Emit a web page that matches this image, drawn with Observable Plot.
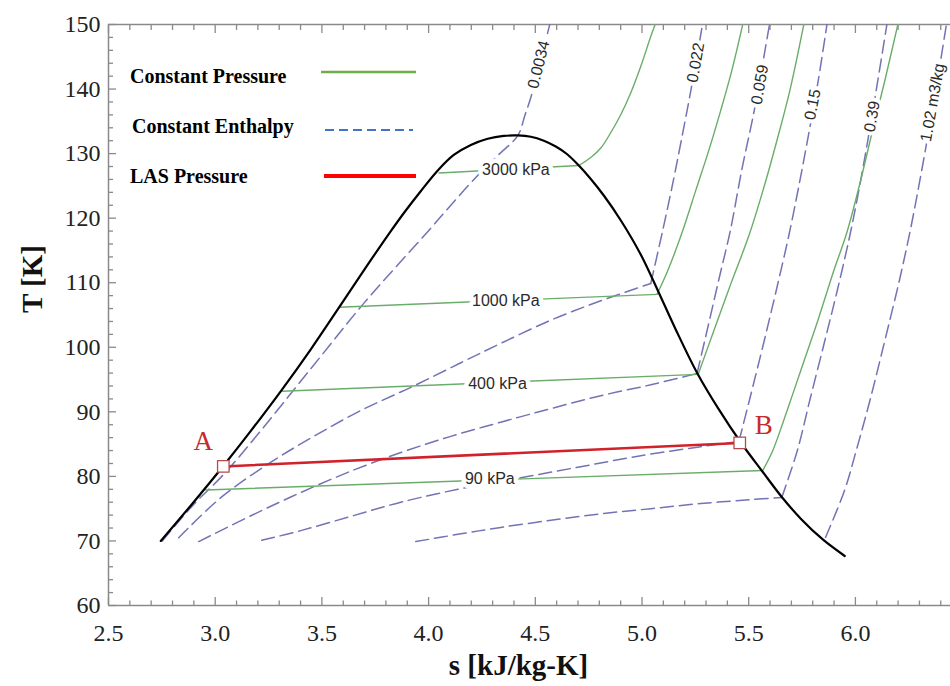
<!DOCTYPE html>
<html><head><meta charset="utf-8">
<script src="https://cdn.jsdelivr.net/npm/d3@7"></script>
<script src="https://cdn.jsdelivr.net/npm/@observablehq/plot@0.6"></script>
<style>
html,body{margin:0;padding:0;background:#fff;}
#wrap{position:relative;width:950px;height:686px;}
</style></head><body>
<div id="wrap"></div>
<script>
// ---------- data (s [kJ/kg-K], T [K]) ----------
const xDomain = [2.5, 6.4456];
const yDomain = [60, 150];
const xMajor = [2.5, 3.0, 3.5, 4.0, 4.5, 5.0, 5.5, 6.0];
const yMajor = [60, 70, 80, 90, 100, 110, 120, 130, 140, 150];

// saturation dome
const dome = [[2.745,70.0],[2.886,75.5],[3.036,81.54],[3.167,87.05],[3.307,93.18],[3.448,99.69],[3.579,106.1],[3.706,112.38],[3.823,118.0],[3.893,121.19],[3.964,124.21],[4.043,127.39],[4.118,129.79],[4.198,131.34],[4.277,132.3],[4.352,132.74],[4.418,132.81],[4.479,132.61],[4.540,132.0],[4.596,131.1],[4.648,129.94],[4.704,128.16],[4.760,126.07],[4.821,123.51],[4.901,119.64],[4.994,114.37],[5.074,108.8],[5.158,102.76],[5.261,95.86],[5.360,90.37],[5.463,85.25],[5.566,80.68],[5.655,76.81],[5.744,73.45],[5.847,70.23],[5.950,67.67]];

// constant pressure lines (wet part + superheated part)
const p3000Wet = [[4.049,127.0],[4.704,128.16]];
const p3000Dry = [[4.704,128.16],[4.760,129.4],[4.807,130.87],[4.854,133.27],[4.901,136.06],[4.948,139.47],[4.994,143.49],[5.041,148.14],[5.065,150.31]];
const p1000Wet = [[3.581,106.2],[5.070,108.2]];
const p1000Dry = [[5.070,108.2],[5.121,111.9],[5.191,118.1],[5.252,124.3],[5.313,130.5],[5.369,136.7],[5.421,142.9],[5.474,150.3]];
const p400Wet = [[3.315,93.2],[5.263,95.8]];
const p400Dry = [[5.263,95.8],[5.337,102.6],[5.417,109.9],[5.501,117.3],[5.567,124.3],[5.632,132.0],[5.693,139.8],[5.760,150.3]];
const p90Wet = [[2.956,77.9],[5.566,80.92]];
const p90Dry = [[5.566,80.92],[5.613,84.02],[5.664,88.66],[5.744,96.41],[5.824,104.15],[5.899,111.9],[5.960,117.78],[6.021,125.37],[6.077,133.12],[6.138,141.33],[6.201,150.3]];

// constant specific-volume lines (dashed)
const v0034 = [[2.752,70.0],[2.895,75.5],[3.045,80.5],[3.214,87.1],[3.434,96.1],[3.696,106.8],[3.854,112.7],[4.001,118.1],[4.104,122.0],[4.221,126.3],[4.324,129.7],[4.418,132.8],[4.451,135.9],[4.479,138.7],[4.507,142.1],[4.570,150.3]];
const v022Wet = [[2.829,70.5],[3.026,76.7],[3.261,82.2],[3.462,86.2],[3.682,90.2],[3.917,93.8],[4.151,97.6],[4.338,100.6],[4.573,104.2],[4.807,107.2],[5.041,109.88]];
const v022Dry = [[5.041,109.88],[5.097,118.09],[5.147,125.84],[5.184,132.03],[5.229,139.78],[5.285,150.3]];
const v059Wet = [[2.923,69.9],[3.167,73.9],[3.401,77.5],[3.635,80.8],[3.870,83.7],[4.104,86.2],[4.338,88.4],[4.573,90.5],[4.807,92.5],[5.042,94.2],[5.258,95.94]];
const v059Dry = [[5.258,95.94],[5.305,102.6],[5.359,110.35],[5.414,118.09],[5.467,127.39],[5.526,136.68],[5.568,144.42],[5.599,150.3]];
const v15Wet = [[3.218,70.1],[3.401,71.6],[3.635,73.8],[3.870,76.0],[4.151,78.1],[4.432,79.8],[4.713,81.5],[4.994,83.2],[5.275,84.6],[5.454,85.41]];
const v15Dry = [[5.454,85.41],[5.503,91.76],[5.573,101.05],[5.629,108.8],[5.688,117.32],[5.740,125.84],[5.784,133.58],[5.826,141.33],[5.868,150.3]];
const v39Wet = [[3.940,69.9],[4.151,71.1],[4.338,72.1],[4.573,73.2],[4.807,74.2],[5.042,75.0],[5.276,75.8],[5.510,76.4],[5.655,76.74]];
const v39Dry = [[5.655,76.74],[5.728,84.02],[5.786,91.76],[5.857,101.05],[5.915,108.8],[5.974,117.32],[6.016,124.29],[6.058,132.03],[6.105,141.33],[6.149,150.3]];
const v102Dry = [[5.860,70.54],[5.949,77.82],[6.004,84.02],[6.068,91.76],[6.138,101.05],[6.206,110.35],[6.257,118.09],[6.302,125.84],[6.344,133.58],[6.384,141.33],[6.428,150.3]];

const lasLine = [[3.038,81.54],[5.458,85.18]];
const statePoints = [{name:"A", s:3.038, T:81.54}, {name:"B", s:5.458, T:85.18}];

const pressureLabels = [
  {text:"3000 kPa", s:4.409, T:127.54},
  {text:"1000 kPa", s:4.362, T:107.25},
  {text:"400 kPa",  s:4.323, T:94.35},
  {text:"90 kPa",   s:4.287, T:79.63}
];
const volumeLabels = [
  {text:"0.0034",     s:4.516, T:143.8,  angle:-76},
  {text:"0.022",      s:5.252, T:144.1,  angle:-80},
  {text:"0.059",      s:5.552, T:140.7,  angle:-80},
  {text:"0.15",       s:5.800, T:137.6,  angle:-79},
  {text:"0.39",       s:6.078, T:135.75, angle:-80},
  {text:"1.02 m3/kg", s:6.362, T:137.9,  angle:-80}
];
const legendLabels = ["Constant Pressure", "Constant Enthalpy", "LAS Pressure"];

// ---------- derived ----------
const xMinor = d3.range(25, 65).map(i => i / 10).filter(v => !xMajor.includes(v));
const yMinor = d3.range(60, 151, 2).filter(v => v % 10 !== 0);
const pressureLines = [p3000Wet, p3000Dry, p1000Wet, p1000Dry, p400Wet, p400Dry, p90Wet, p90Dry];
const volumeLines = [v0034, v022Wet, v022Dry, v059Wet, v059Dry, v15Wet, v15Dry, v39Wet, v39Dry, v102Dry];

const GREEN = "#6aad6a", DASH = "#7373b5", GRID = "#8a8a8a";
const px = {x: d => d[0], y: d => d[1]};

const marks = [];
// frame (left, top, bottom)
marks.push(Plot.ruleX([xDomain[0]], {stroke: GRID, strokeWidth: 1.5}));
marks.push(Plot.ruleY(yDomain, {stroke: GRID, strokeWidth: 1.5}));
// ticks (inward)
marks.push(Plot.axisX(xMajor, {anchor: "bottom", tickSize: 8, dy: -8, fill: "none", stroke: GRID, strokeWidth: 1.3, label: null}));
marks.push(Plot.axisX(xMinor, {anchor: "bottom", tickSize: 4.5, dy: -4.5, fill: "none", stroke: GRID, strokeWidth: 1.3, label: null}));
marks.push(Plot.axisX(xMajor, {anchor: "top", tickSize: 8, dy: 8, fill: "none", stroke: GRID, strokeWidth: 1.3, label: null}));
marks.push(Plot.axisX(xMinor, {anchor: "top", tickSize: 5, dy: 5, fill: "none", stroke: GRID, strokeWidth: 1.3, label: null}));
marks.push(Plot.axisY(yMajor, {anchor: "left", tickSize: 8, dx: 8, fill: "none", stroke: GRID, strokeWidth: 1.3, label: null}));
marks.push(Plot.axisY(yMinor, {anchor: "left", tickSize: 5, dx: 5, fill: "none", stroke: GRID, strokeWidth: 1.3, label: null}));
// tick labels
marks.push(Plot.axisX(xMajor, {anchor: "bottom", tickSize: 0, tickPadding: 18, tickFormat: d => d.toFixed(1), fontSize: 24, fill: "#222", label: null}));
marks.push(Plot.axisY(yMajor, {anchor: "left", tickSize: 0, tickPadding: 8, fontSize: 24, fill: "#222", label: null}));

// constant volume (dashed)
for (const L of volumeLines) marks.push(Plot.line(L, {...px, stroke: DASH, strokeWidth: 1.5, strokeDasharray: "13,6", curve: "catmull-rom", clip: true}));
// constant pressure (green)
for (const L of pressureLines) marks.push(Plot.line(L, {...px, stroke: GREEN, strokeWidth: 1.4, curve: "catmull-rom", clip: true}));
// saturation dome
marks.push(Plot.line(dome, {...px, stroke: "#000", strokeWidth: 2.2, curve: "catmull-rom"}));
// LAS pressure line
marks.push(Plot.line(lasLine, {...px, stroke: "#d0222a", strokeWidth: 2.6}));

// labels with white halo
marks.push(Plot.text(pressureLabels, {x: "s", y: "T", text: "text", fill: "#2a2a2a", stroke: "white", strokeWidth: 9, fontSize: 16, fontFamily: "Liberation Sans, Arial, sans-serif"}));
marks.push(Plot.text(volumeLabels, {x: "s", y: "T", text: "text", rotate: "angle", fill: "#2a2a2a", stroke: "white", strokeWidth: 8, fontSize: 16, fontFamily: "Liberation Sans, Arial, sans-serif"}));

// state points
marks.push(Plot.dot(statePoints, {x: "s", y: "T", symbol: "square", r: 6.5, fill: "white", stroke: "#b84a4a", strokeWidth: 1.3}));
marks.push(Plot.text(statePoints.filter(d => d.name === "A"), {x: "s", y: "T", text: "name", dx: -20, dy: -25, fontSize: 27, fill: "#c62a2a"}));
marks.push(Plot.text(statePoints.filter(d => d.name === "B"), {x: "s", y: "T", text: "name", dx: 24, dy: -18, fontSize: 27, fill: "#c62a2a"}));

// axis titles
marks.push(Plot.text(["s [kJ/kg-K]"], {text: d => d, frameAnchor: "bottom", dx: -11, dy: 69, fontSize: 29, fontWeight: "bold", fill: "#111"}));
marks.push(Plot.text(["T [K]"], {text: d => d, frameAnchor: "left", dx: -76, dy: -2, rotate: -90, fontSize: 29, fontWeight: "bold", fill: "#111"}));

const chart = Plot.plot({
  width: 950, height: 686,
  marginLeft: 108, marginRight: 0, marginTop: 24, marginBottom: 81,
  x: {domain: xDomain},
  y: {domain: yDomain},
  style: {fontFamily: "Liberation Serif, 'Times New Roman', serif", background: "white", overflow: "visible"},
  marks
});
const wrap = document.getElementById("wrap");
wrap.append(chart);

// legend overlay
const leg = d3.select(wrap).append("svg")
  .attr("width", 950).attr("height", 686)
  .style("position", "absolute").style("left", "0px").style("top", "0px")
  .style("pointer-events", "none");
const legText = [[130, 82.5], [132, 133.3], [130, 183.3]];
legendLabels.forEach((t, i) => {
  leg.append("text").attr("x", legText[i][0]).attr("y", legText[i][1])
    .attr("font-family", "Liberation Serif, 'Times New Roman', serif")
    .attr("font-weight", "bold").attr("font-size", 20).attr("fill", "#000").text(t);
});
leg.append("line").attr("x1", 321).attr("x2", 416).attr("y1", 72).attr("y2", 72)
  .attr("stroke", "#70ad47").attr("stroke-width", 2.5);
leg.append("line").attr("x1", 325).attr("x2", 413).attr("y1", 130).attr("y2", 130)
  .attr("stroke", "#4472c4").attr("stroke-width", 2).attr("stroke-dasharray", "9,5");
leg.append("line").attr("x1", 324).attr("x2", 416).attr("y1", 176).attr("y2", 176)
  .attr("stroke", "#ff0000").attr("stroke-width", 4);
</script>
</body></html>
